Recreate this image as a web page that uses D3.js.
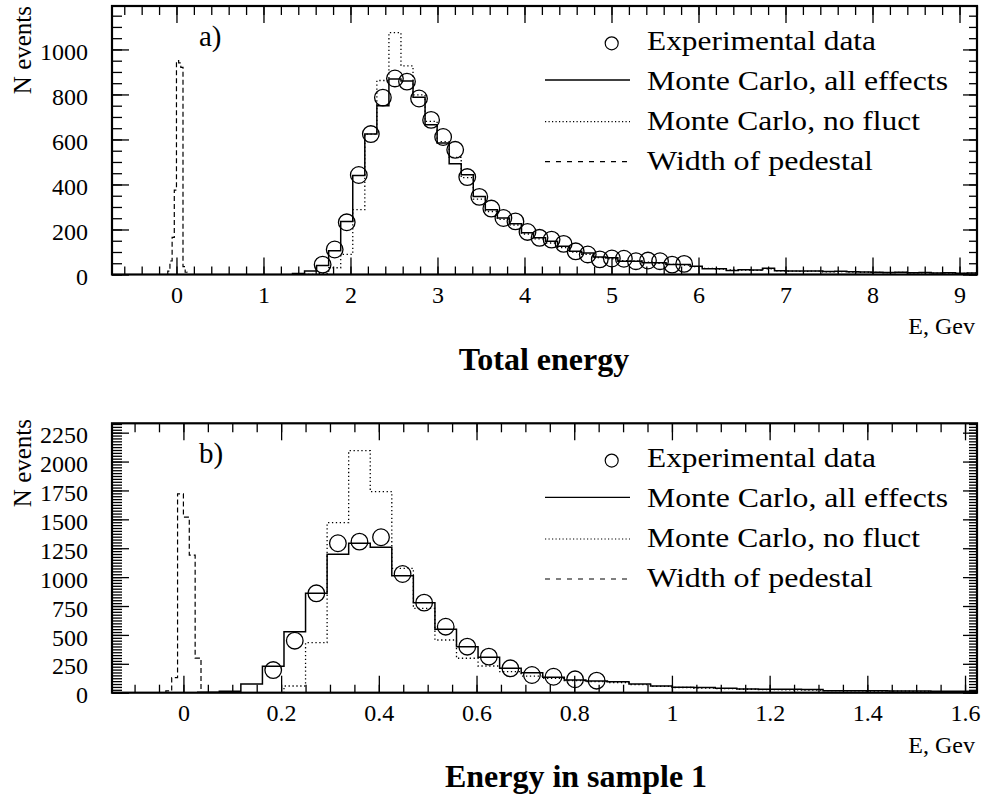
<!DOCTYPE html>
<html><head><meta charset="utf-8">
<script src="https://cdn.jsdelivr.net/npm/d3@7/dist/d3.min.js"></script>
<style>
body{margin:0;background:#fff}
svg text{font-family:"Liberation Serif","Times New Roman",Times,serif !important;fill:#000}
</style>
</head><body>
<svg id="chart" width="985" height="798"></svg>
<script>
// ---------------- DATA ----------------
// a) Total energy
const topDataFirstCenter = 1.68, topBinWidth = 0.1385;
const topExperimental = [44,111,232,442,624,786,871,857,782,687,611,554,433,345,293,251,236,189,163,155,136,103,89,67,71,70,59,62,59,44,47];
const topMCFirstCenter = 1.68 - 2*0.1385;
const topMCAll = [5,15,40,105,236,440,624,750,869,860,788,665,584,492,443,347,288,251,226,185,163,148,126,103,96,78,74,59,59,52,52,44,44,37,25,25,18,21,20,28,17,16,15,16,13,14,12,11,10,9,10,8,9,7,8,6,7];
const topMCNoFluct = [0,0,5,30,89,288,624,862,1075,927,798,680,590,520,430,335,280,245,220,180,158,140,120,100,90,75,70,62,60,55,50,45,42,35,27,24,20,19,18,25,16,15,14,15,12,13,11,10,9,8,9,7,7,6,6,5,6];
const topPedFirstCenter = -0.0875, topPedWidth = 0.025;
const topPedestal = [15,60,165,375,950,940,920,35,10];
const topXMajor = [0,1,2,3,4,5,6,7,8,9];
const topYMajor = [0,200,400,600,800,1000];

// b) Energy in sample 1
const botDataFirstCenter = 0.1838, botBinWidth = 0.04414;
const botExperimental = [196,450,860,1293,1307,1345,1027,779,571,398,312,211,153,138,116,104];
const botMCFirstCenter = 0.1838 - 3*0.04414;
const botMCAll = [3,12,75,228,528,860,1197,1293,1258,1013,779,548,398,306,211,173,133,110,101,95,75,58,47,44,38,32,29,29,27,17,16,17,15,14,12,12,10];
const botMCNoFluct = [0,0,0,0,58,433,1471,2094,1739,1076,730,456,298,231,182,144,124,104,95,88,70,55,45,40,36,30,27,25,22,18,16,14,13,12,10,9,8];
const botPedFirstCenter = -0.030, botPedWidth = 0.012;
const botPedestal = [15,130,1720,1520,1190,300];
const botXMajor = [0,0.2,0.4,0.6,0.8,1,1.2,1.4,1.6];
const botYMajor = [0,250,500,750,1000,1250,1500,1750,2000,2250];

const legendLabels = ["Experimental data","Monte Carlo, all effects","Monte Carlo, no fluct","Width of pedestal"];

// ---------------- LAYOUT ----------------
const FONT = '"Liberation Serif","Times New Roman",Times,serif';
const svg = d3.select("#chart");
const L = 112, R = 977;

const panels = [
  {id:"a", top:6, bottom:274.5, xdom:[-0.741,9.201], ydom:[0,1193],
   xMajor:topXMajor, xMinor:d3.range(-3,47).map(k=>k*0.2), yMajor:topYMajor, yMinor:d3.range(0,24).map(k=>k*50),
   data:topExperimental, dataC:topDataFirstCenter, w:topBinWidth,
   mcAll:topMCAll, mcNo:topMCNoFluct, mcC:topMCFirstCenter,
   ped:topPedestal, pedC:topPedFirstCenter, pedW:topPedWidth,
   tag:"a)", title:"Total energy", titleX:544, titleY:370, unitY:334, nevTop:6},
  {id:"b", top:423.3, bottom:692.7, xdom:[-0.1462,1.6245], ydom:[0,2331],
   xMajor:botXMajor, xMinor:d3.range(-2,33).map(k=>k*0.05), yMajor:botYMajor, yMinor:d3.range(0,94).map(k=>k*25),
   data:botExperimental, dataC:botDataFirstCenter, w:botBinWidth,
   mcAll:botMCAll, mcNo:botMCNoFluct, mcC:botMCFirstCenter,
   ped:botPedestal, pedC:botPedFirstCenter, pedW:botPedWidth,
   tag:"b)", title:"Energy in sample 1", titleX:576, titleY:787, unitY:752.7, nevTop:419}
];

function stepPoints(vals, firstCenter, w){
  const pts = [];
  const e0 = firstCenter - w/2;
  pts.push([e0, 0]);
  vals.forEach((v,i)=>{
    pts.push([e0 + i*w, v]);
    pts.push([e0 + (i+1)*w, v]);
  });
  pts.push([e0 + vals.length*w, 0]);
  return pts;
}
const fmt = d => String(+d.toFixed(2));

panels.forEach(p=>{
  const x = d3.scaleLinear().domain(p.xdom).range([L,R]);
  const y = d3.scaleLinear().domain(p.ydom).range([p.bottom,p.top]);
  const g = svg.append("g");

  svg.append("clipPath").attr("id","clip"+p.id)
    .append("rect").attr("x",L).attr("y",p.top).attr("width",R-L).attr("height",p.bottom-p.top);

  const line = d3.line().x(d=>x(d[0])).y(d=>y(d[1]));
  const hg = g.append("g").attr("clip-path",`url(#clip${p.id})`);

  hg.append("path").attr("d",line(stepPoints(p.ped,p.pedC,p.pedW)))
    .attr("fill","none").attr("stroke","#000").attr("stroke-width",1.2).attr("stroke-dasharray","5,3");
  hg.append("path").attr("d",line(stepPoints(p.mcNo,p.mcC,p.w)))
    .attr("fill","none").attr("stroke","#000").attr("stroke-width",1.3).attr("stroke-dasharray","1.3,2.6");
  hg.append("path").attr("d",line(stepPoints(p.mcAll,p.mcC,p.w)))
    .attr("fill","none").attr("stroke","#000").attr("stroke-width",1.5);

  hg.selectAll("circle.d").data(p.data).join("circle").attr("class","d")
    .attr("cx",(d,i)=>x(p.dataC + i*p.w)).attr("cy",d=>y(d)).attr("r",8.3)
    .attr("fill","none").attr("stroke","#000").attr("stroke-width",1.3);

  // axes (ticks inward)
  function ax(axis, tr, size, vals, labels, pad){
    const a = axis.tickValues(vals).tickSize(size).tickPadding(pad||0)
      .tickFormat(labels ? fmt : "");
    const s = g.append("g").attr("transform",tr).call(a)
      .attr("font-family",FONT).attr("font-size",24);
    s.select(".domain").remove();
    s.selectAll("line").attr("stroke","#000").attr("stroke-width",1.3);
    s.selectAll("text").style("font-family",FONT).style("font-size","24px").attr("fill","#000");
    return s;
  }
  ax(d3.axisBottom(x), `translate(0,${p.bottom})`, -8, p.xMinor, false);
  ax(d3.axisBottom(x), `translate(0,${p.bottom})`, -17, p.xMajor, true, 11);
  ax(d3.axisTop(x), `translate(0,${p.top})`, -9, p.xMinor, false);
  ax(d3.axisTop(x), `translate(0,${p.top})`, -17, p.xMajor, false);
  ax(d3.axisLeft(y), `translate(${L},0)`, -10, p.yMinor, false);
  const yl = ax(d3.axisLeft(y), `translate(${L},0)`, -17, p.yMajor, true, 24);
  yl.selectAll("text").attr("dy","0.42em");
  ax(d3.axisRight(y), `translate(${R},0)`, -8, p.yMinor, false);
  ax(d3.axisRight(y), `translate(${R},0)`, -14, p.yMajor, false);

  // frame
  g.append("rect").attr("x",L).attr("y",p.top).attr("width",R-L).attr("height",p.bottom-p.top)
    .attr("fill","none").attr("stroke","#000").attr("stroke-width",2.2);

  // texts
  const T = sel => sel.style("font-family",FONT);
  T(g.append("text").attr("transform",`translate(31,${p.nevTop}) rotate(-90)`)
    .attr("text-anchor","end").style("font-size","25px").text("N events"));
  T(g.append("text").attr("x",199).attr("y",p.top+40).style("font-size","29px").text(p.tag));
  T(g.append("text").attr("x",975).attr("y",p.unitY).attr("text-anchor","end").style("font-size","24px").text("E, Gev"));
  T(g.append("text").attr("x",p.titleX).attr("y",p.titleY).attr("text-anchor","middle")
    .style("font-size","32px").style("font-weight","bold").text(p.title));

  // legend
  const lg = g.append("g").attr("transform",`translate(0,${p.top})`);
  const lens = [229,301,273,226];
  legendLabels.forEach((t,i)=>{
    T(lg.append("text").attr("x",647).attr("y",44+40*i).style("font-size","28px")
      .attr("textLength",lens[i]).attr("lengthAdjust","spacingAndGlyphs").text(t));
  });
  lg.append("circle").attr("cx",611.7).attr("cy",37.3).attr("r",6.5)
    .attr("fill","none").attr("stroke","#000").attr("stroke-width",1.2);
  lg.append("line").attr("x1",545).attr("x2",630).attr("y1",74).attr("y2",74)
    .attr("stroke","#000").attr("stroke-width",1.3);
  lg.append("line").attr("x1",545).attr("x2",630).attr("y1",115.7).attr("y2",115.7)
    .attr("stroke","#000").attr("stroke-width",1.2).attr("stroke-dasharray","1.2,2.3");
  lg.append("line").attr("x1",545).attr("x2",630).attr("y1",155.7).attr("y2",155.7)
    .attr("stroke","#000").attr("stroke-width",1.2).attr("stroke-dasharray","5,6");
});
</script>
</body></html>
